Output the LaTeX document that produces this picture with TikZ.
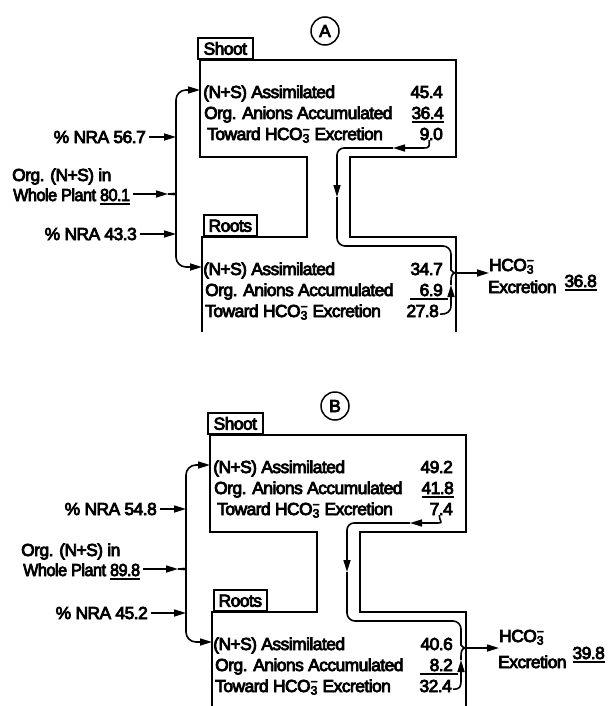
\documentclass[tikz,border=0pt]{standalone}
\usepackage{fontspec}
\setmainfont{Liberation Sans}[FakeBold=4.5, LetterSpace=-3]
\usetikzlibrary{arrows.meta}
\newsavebox{\ulbox}
\newcommand{\ulnum}[1]{\sbox{\ulbox}{#1}\rlap{\rule[-3.5pt]{\wd\ulbox}{1.5pt}}\usebox{\ulbox}}
\newcommand{\hco}{HCO\rlap{\textsubscript{3}}\textsuperscript{−}}
\begin{document}
\begin{tikzpicture}[x=1pt,y=-1pt,
  lbl/.style={font=\fontsize{17.4}{20}\selectfont, text height=12pt, text depth=0pt, inner sep=0pt},
  narrow/.style={lbl, transform shape, xscale=0.93},
  tabbox/.style={lbl, draw, line width=1.6pt, minimum height=21pt, fill=white},
  outline/.style={line width=1.7pt, line join=miter},
  flow/.style={line width=1.6pt},
  arr/.style={flow, -{Triangle[length=12pt,width=7pt]}},
  letter/.style={lbl, circle, draw, line width=1.5pt, minimum size=28pt}]
\fill[white] (0,0) rectangle (614,706);
\useasboundingbox (0,0) rectangle (614,706);

% ================= Panel A =================
\begin{scope}
\node[letter] (acirc) at (325,31) {A};
\draw[outline] (202,332) -- (202,237) -- (307,237) -- (307,157) -- (200,157) -- (200,60) -- (456,60) -- (456,157) -- (350,157) -- (350,237) -- (456,237) -- (456,332);
\node[tabbox, minimum width=55pt, anchor=south west] (ashoot) at (197,60) {Shoot};
\node[tabbox, minimum width=53pt, anchor=south west] (aroots) at (203,237) {Roots};
% shoot rows
\node[lbl, anchor=base west] (as1) at (203,98) {(N+S) Assimilated};
\node[lbl, anchor=base west] (as2) at (204,119) {Org. Anions Accumulated};
\node[lbl, anchor=base west] (as3) at (207,140) {Toward \hco\ Excretion};
\node[lbl, anchor=base east] (as1n) at (443,98) {45.4};
\node[lbl, anchor=base east] (as2n) at (444,119) {\ulnum{36.4}};
\node[lbl, anchor=base east] (as3n) at (443,140) {9.0};
% roots rows
\node[lbl, anchor=base west] (ar1) at (203,275) {(N+S) Assimilated};
\node[lbl, anchor=base west] (ar2) at (205,296) {Org. Anions Accumulated};
\node[lbl, anchor=base west] (ar3) at (205,317) {Toward \hco\ Excretion};
\node[lbl, anchor=base east] (ar1n) at (443,275) {34.7};
\node[lbl, anchor=base east] (ar2n) at (448,296) {\ulnum{\makebox[38pt][r]{6.9\kern5pt}}};
\node[lbl, anchor=base east] (ar3n) at (439,317) {27.8};
% channel flow
\coordinate (aj) at (456,273);
\coordinate (ach1) at (393,148);
\coordinate (ach2) at (337,197);
\coordinate (aup) at (451,285);
\draw[arr] ([xshift=-2pt]as3n.south) .. controls +(0,6) and +(6,0) .. (424,148) -- (ach1);
\draw[arr, rounded corners=7pt] (ach1) -- (337,148) -- (ach2);
\draw[flow, rounded corners=8pt] (ach2) -- (337,246) -- (451,246) -- (451,262) .. controls (451,269) and (452,273) .. (aj);
\draw[arr] ([xshift=1pt,yshift=3pt]ar3n.south east) .. controls +(7,0) and +(0,7) .. (451,305) -- (aup);
\draw[flow] (aup) -- (451,281) .. controls (451,276) and (452,273) .. (aj);
% excretion
\node[lbl, anchor=base west] (ahco) at (489,271) {\hco};
\node[lbl, anchor=base west] (aexc) at (488,293) {Excretion};
\node[lbl, anchor=base east] (aexn) at (597,287) {\ulnum{36.8}};
\draw[arr] (aj) -- (aj -| ahco.west);
% left side
\coordinate (av) at (176,0);
\coordinate (abr) at (168,194);
\coordinate (ashin) at (200,90);
\coordinate (arin) at (202,267);
\draw[arr, rounded corners=10pt] (abr) .. controls (173,194) and (176,192) .. (176,186) -- (176,90) -- (ashin);
\draw[arr, rounded corners=10pt] (abr) .. controls (173,194) and (176,196) .. (176,202) -- (176,267) -- (arin);
\node[lbl, anchor=base east] (anra1) at (146,143) {\% NRA 56.7};
\node[lbl, anchor=base west] (aorg) at (12,181) {Org. (N+S) in};
\node[narrow, anchor=base west] (awhole) at (13,201) {Whole Plant \ulnum{80.1}};
\node[lbl, anchor=base east] (anra2) at (137,240) {\% NRA 43.3};
\coordinate (awe) at ([xshift=3pt]awhole.east);
\draw[arr] ([xshift=3pt]anra1.east) -- (anra1.east -| av);
\draw[arr] (awe |- abr) -- (abr);
\draw[arr] ([xshift=3pt]anra2.east) -- (anra2.east -| av);
\end{scope}

% ================= Panel B =================
\begin{scope}[shift={(10,375)}]
\node[letter] (bcirc) at (325,31) {B};
\draw[outline] (202,332) -- (202,237) -- (307,237) -- (307,157) -- (200,157) -- (200,60) -- (456,60) -- (456,157) -- (350,157) -- (350,237) -- (456,237) -- (456,332);
\node[tabbox, minimum width=55pt, anchor=south west] (bshoot) at (197,60) {Shoot};
\node[tabbox, minimum width=53pt, anchor=south west] (broots) at (203,237) {Roots};
% shoot rows
\node[lbl, anchor=base west] (bs1) at (203,98) {(N+S) Assimilated};
\node[lbl, anchor=base west] (bs2) at (204,119) {Org. Anions Accumulated};
\node[lbl, anchor=base west] (bs3) at (207,140) {Toward \hco\ Excretion};
\node[lbl, anchor=base east] (bs1n) at (443,98) {49.2};
\node[lbl, anchor=base east] (bs2n) at (444,119) {\ulnum{41.8}};
\node[lbl, anchor=base east] (bs3n) at (443,140) {7.4};
% roots rows
\node[lbl, anchor=base west] (br1) at (203,275) {(N+S) Assimilated};
\node[lbl, anchor=base west] (br2) at (205,296) {Org. Anions Accumulated};
\node[lbl, anchor=base west] (br3) at (205,317) {Toward \hco\ Excretion};
\node[lbl, anchor=base east] (br1n) at (443,275) {40.6};
\node[lbl, anchor=base east] (br2n) at (448,296) {\ulnum{\makebox[38pt][r]{8.2\kern5pt}}};
\node[lbl, anchor=base east] (br3n) at (442,317) {32.4};
% channel flow
\coordinate (bj) at (456,273);
\coordinate (bch1) at (400,148);
\coordinate (bch2) at (337,197);
\coordinate (bup) at (451,285);
\draw[arr] ([xshift=-2pt]bs3n.south) .. controls +(0,6) and +(6,0) .. (428,148) -- (bch1);
\draw[arr, rounded corners=7pt] (bch1) -- (337,148) -- (bch2);
\draw[flow, rounded corners=8pt] (bch2) -- (337,246) -- (451,246) -- (451,262) .. controls (451,269) and (452,273) .. (bj);
\draw[arr] ([xshift=1pt,yshift=3pt]br3n.south east) .. controls +(7,0) and +(0,7) .. (451,305) -- (bup);
\draw[flow] (bup) -- (451,281) .. controls (451,276) and (452,273) .. (bj);
% excretion
\node[lbl, anchor=base west] (bhco) at (489,267) {\hco};
\node[lbl, anchor=base west] (bexc) at (488,293) {Excretion};
\node[lbl, anchor=base east] (bexn) at (595,284) {\ulnum{39.8}};
\draw[arr] (bj) -- (bj -| bhco.west);
% left side
\coordinate (bv) at (176,0);
\coordinate (bbr) at (168,194);
\coordinate (bshin) at (200,90);
\coordinate (brin) at (202,267);
\draw[arr, rounded corners=10pt] (bbr) .. controls (173,194) and (176,192) .. (176,186) -- (176,90) -- (bshin);
\draw[arr, rounded corners=10pt] (bbr) .. controls (173,194) and (176,196) .. (176,202) -- (176,267) -- (brin);
\node[lbl, anchor=base east] (bnra1) at (147,140) {\% NRA 54.8};
\node[lbl, anchor=base west] (borg) at (11,181) {Org. (N+S) in};
\node[narrow, anchor=base west] (bwhole) at (13,201) {Whole Plant \ulnum{89.8}};
\node[lbl, anchor=base east] (bnra2) at (138,244) {\% NRA 45.2};
\coordinate (bwe) at ([xshift=3pt]bwhole.east);
\draw[arr] ([xshift=3pt]bnra1.east) -- (bnra1.east -| bv);
\draw[arr] (bwe |- bbr) -- (bbr);
\draw[arr] ([xshift=3pt]bnra2.east) -- (bnra2.east -| bv);
\end{scope}
\end{tikzpicture}
\end{document}
